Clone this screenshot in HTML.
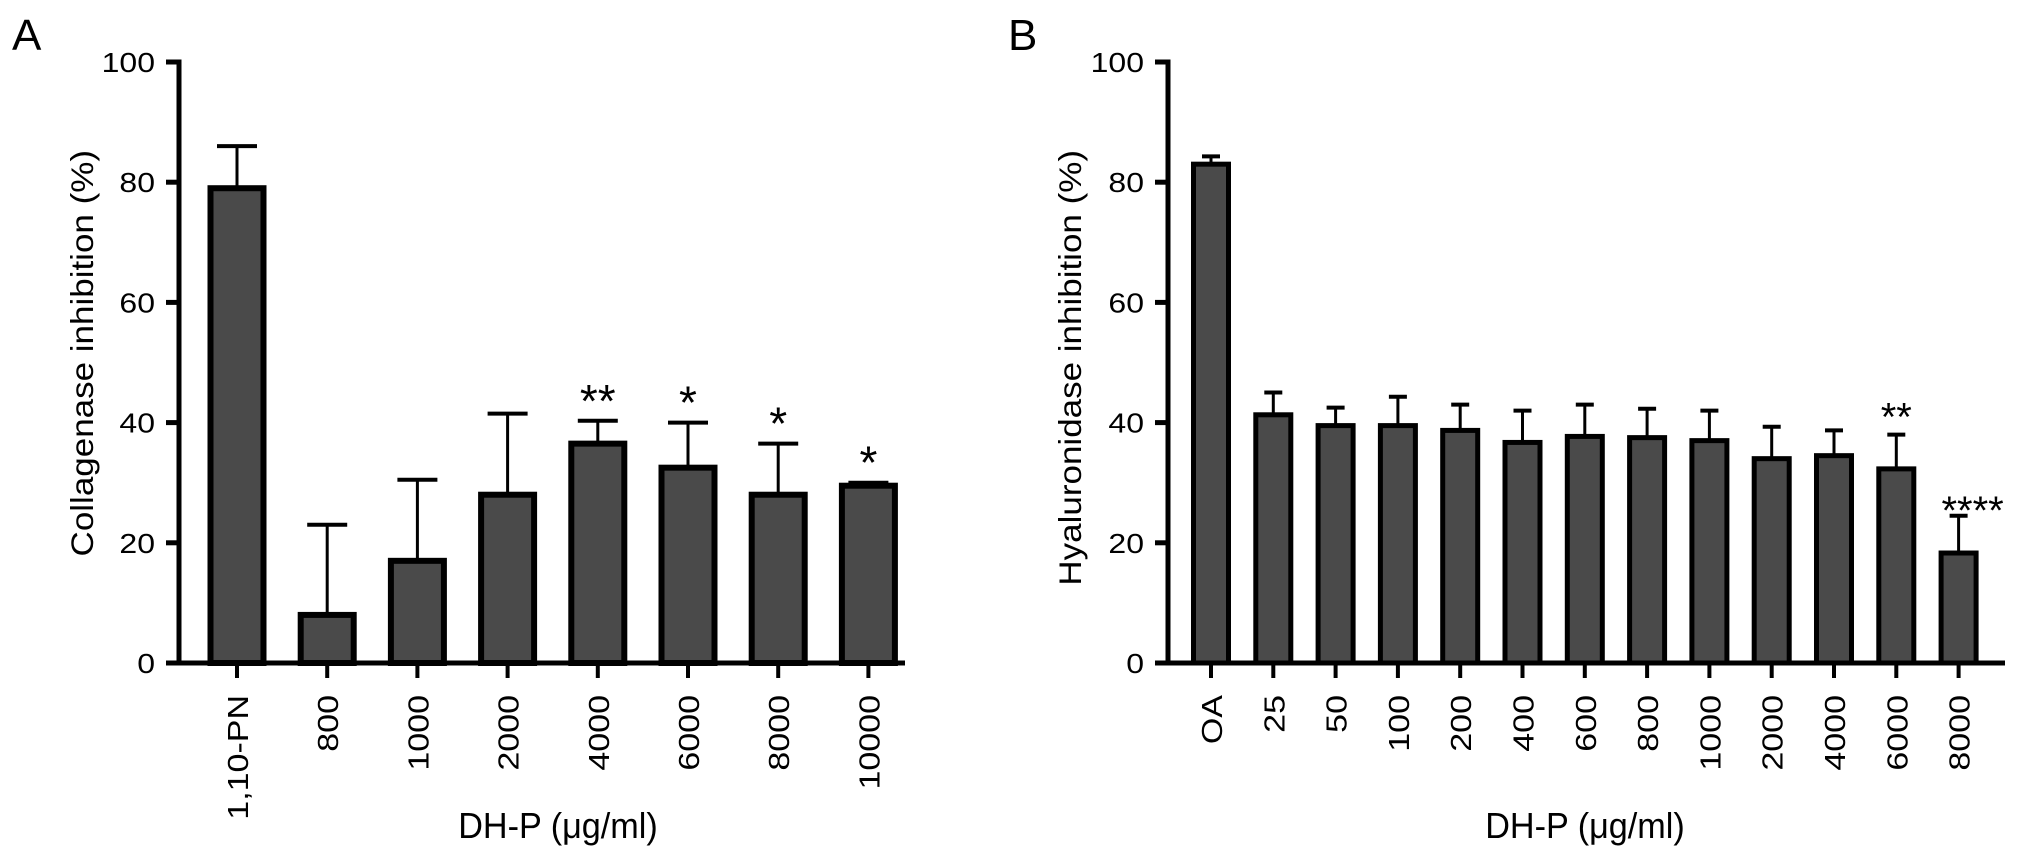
<!DOCTYPE html>
<html><head><meta charset="utf-8"><style>
body{margin:0;background:#fff;}
svg{display:block;font-family:"Liberation Sans",sans-serif;}
</style></head><body>
<svg id="chart" width="2032" height="854" viewBox="0 0 2032 854">
<text x="12" y="50" font-size="44">A</text>
<text x="1008" y="50" font-size="44">B</text>
<g id="pa"></g>
<g id="pb"></g>
</svg>
<script>
const catsA=["1,10-PN","800","1000","2000","4000","6000","8000","10000"];
const valsA=[79,8,17,28,36.5,32.5,28,29.5];
const errA=[86,23,30.5,41.5,40.3,40,36.5,30];
const starsA=["","","","","**","*","*","*"];
const catsB=["OA","25","50","100","200","400","600","800","1000","2000","4000","6000","8000"];
const valsB=[83,41.3,39.5,39.5,38.7,36.7,37.7,37.5,37,34,34.5,32.3,18.3];
const errB=[84.3,45,42.5,44.3,43,42,43,42.3,42,39.3,38.7,38,24.5];
const starsB=["","","","","","","","","","","","**","****"];
const ticks=[0,20,40,60,80,100];
const NS="http://www.w3.org/2000/svg";
function mk(p,t,a,txt){const e=document.createElementNS(NS,t);for(const k in a)e.setAttribute(k,a[k]);if(txt!==undefined)e.textContent=txt;p.appendChild(e);return e;}
function draw(g,cfg,cats,vals,errs,stars){
  const y0=663,y100=62;
  const y=v=>y0-(y0-y100)*v/100;
  const x=i=>cfg.first+i*cfg.step;
  let e;
  e=mk(g,"line",{x1:cfg.ax,y1:y100-2.5,x2:cfg.ax,y2:y0,stroke:"#000","stroke-width":5});
  
  
  e=mk(g,"line",{x1:cfg.ax-13,y1:y0,x2:cfg.xend,y2:y0,stroke:"#000","stroke-width":5});
  
  
  ticks.forEach(t=>{
    e=mk(g,"line",{x1:cfg.ax-13,y1:y(t),x2:cfg.ax,y2:y(t),stroke:"#000","stroke-width":5});
    
    
    e=mk(g,"text",{x:0,y:0,"font-size":32,"text-anchor":"end",transform:`translate(${cfg.ax-24},${y(t)+10}) scale(1,0.88)`},String(t));
    
    
  });
  cats.forEach((c,i)=>{
    const cx=x(i),w=cfg.bw;
    e=mk(g,"line",{x1:cx,y1:y(vals[i]),x2:cx,y2:y(errs[i]),stroke:"#000","stroke-width":3});
    
    
    e=mk(g,"line",{x1:cx-cfg.cap,y1:y(errs[i]),x2:cx+cfg.cap,y2:y(errs[i]),stroke:"#000","stroke-width":4});
    
    
    e=mk(g,"rect",{x:cx-w/2,y:y(vals[i]),width:w,height:y0-y(vals[i]),fill:"#4a4a4a",stroke:"#000","stroke-width":cfg.sw});
    
    
    e=mk(g,"line",{x1:cx,y1:y0,x2:cx,y2:y0+15,stroke:"#000","stroke-width":4});
    
    
    e=mk(g,"text",{x:0,y:0,"font-size":34,"text-anchor":"end",transform:`translate(${cx+11},${y0+32}) rotate(-90) scale(1,0.85)`},c);
    
    
    if(stars[i]){
      const off=stars[i].length>2?{dx:14,dy:8}:{dx:0,dy:-4};
      e=mk(g,"text",{x:cx+off.dx,y:y(errs[i])+off.dy,"font-size":cfg.sf,"text-anchor":"middle"},stars[i]);
      
      
    }
  });
  e=mk(g,"text",{x:0,y:0,"font-size":36,"text-anchor":"middle",transform:`translate(${cfg.titleX},838) scale(0.95,1)`},"DH-P (\u03bcg/ml)");
  
  
  e=mk(g,"text",{x:0,y:0,"font-size":35,"text-anchor":"end",transform:`translate(${cfg.ytx},150) rotate(-90) scale(1,0.9)`},cfg.ytitle);
  
  
}
draw(document.getElementById("pa"),{ax:179,xend:905,first:237,step:90.2,bw:53,sw:6,cap:20,sf:46,titleX:558,ytx:93,ytitle:"Collagenase inhibition (%)"},catsA,valsA,errA,starsA);
draw(document.getElementById("pb"),{ax:1168,xend:2005,first:1211,step:62.3,bw:35,sw:5,cap:9,sf:40,titleX:1585,ytx:1081,ytitle:"Hyaluronidase inhibition (%)"},catsB,valsB,errB,starsB);
</script>
</body></html>
